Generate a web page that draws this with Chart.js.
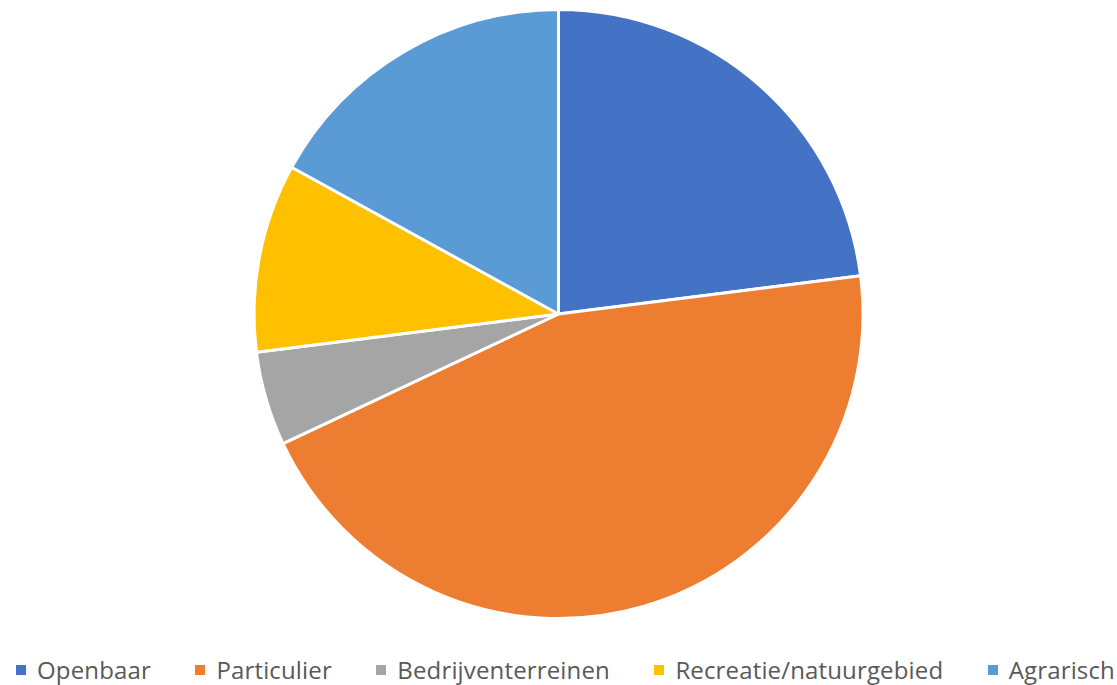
<!DOCTYPE html>
<html>
<head>
<meta charset="utf-8">
<script src="https://cdn.jsdelivr.net/npm/chart.js@4.4.0/dist/chart.umd.min.js"></script>
<style>
  html, body { margin: 0; padding: 0; background: #fff; }
  #wrap { position: relative; width: 1117px; height: 685px; overflow: hidden; }
  #chartBox { position: absolute; left: 0; top: 0; width: 1117px; height: 628px; }
  #legend { position: absolute; left: 16px; top: 653px; width: 1099px; display: flex; align-items: center;
            justify-content: space-between;
            font-family: "Open Sans", sans-serif; font-size: 24px; letter-spacing: 0.15px; color: #595959; white-space: nowrap; }
  .item { display: flex; align-items: center; }
  .sw { width: 10px; height: 10px; margin-right: 11px; }
</style>
</head>
<body>
<div id="wrap">
  <div id="chartBox"><canvas id="c"></canvas></div>
  <div id="legend"></div>
</div>
<script>
const categories = ["Openbaar", "Particulier", "Bedrijventerreinen", "Recreatie/natuurgebied", "Agrarisch"];
const values = [23, 45, 5, 10, 17];
const colors = ["#4472C4", "#ED7D31", "#A5A5A5", "#FFC000", "#5B9BD5"];

new Chart(document.getElementById('c'), {
  type: 'pie',
  data: {
    labels: categories,
    datasets: [{
      data: values,
      backgroundColor: colors,
      borderColor: '#ffffff',
      borderWidth: 3
    }]
  },
  options: {
    responsive: true,
    maintainAspectRatio: false,
    animation: false,
    layout: { padding: { top: 8, bottom: 8 } },
    plugins: { legend: { display: false }, tooltip: { enabled: false } }
  }
});

const leg = document.getElementById('legend');
categories.forEach((name, i) => {
  const it = document.createElement('div');
  it.className = 'item';
  const sw = document.createElement('span');
  sw.className = 'sw';
  sw.style.background = colors[i];
  const tx = document.createElement('span');
  tx.textContent = name;
  it.appendChild(sw);
  it.appendChild(tx);
  leg.appendChild(it);
});
</script>
</body>
</html>
